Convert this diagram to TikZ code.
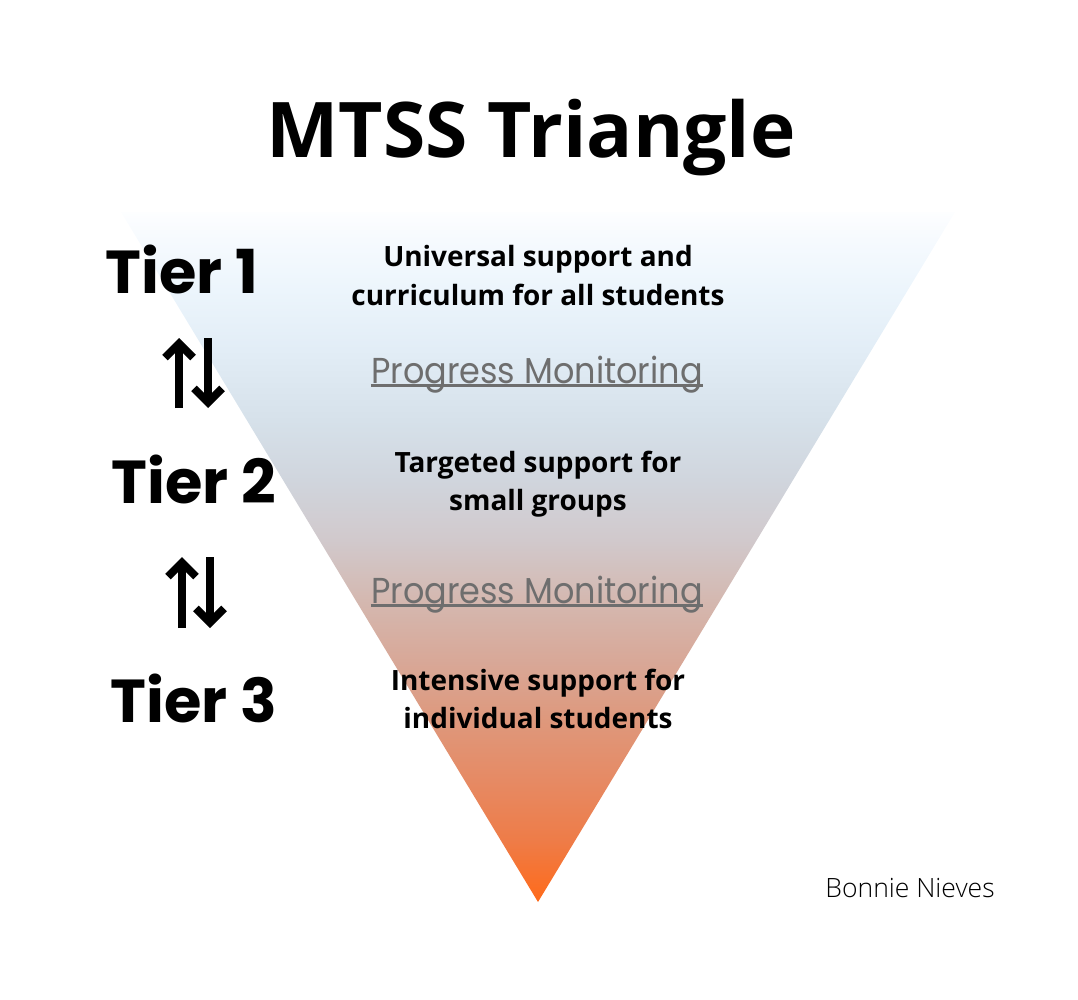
\documentclass[tikz,border=0pt]{standalone}
\usepackage{fontspec}
\setmainfont{Open Sans}
\newfontfamily\tierfont{Poppins}
\newfontfamily\pmfont{Poppins}
\newfontfamily\lightfont{Open Sans Light}
\usetikzlibrary{arrows.meta}
\definecolor{s0}{HTML}{FF6A1A}
\definecolor{s1}{HTML}{EE7C48}
\definecolor{s2}{HTML}{E68A64}
\definecolor{s3}{HTML}{DE987C}
\definecolor{s4}{HTML}{D8A898}
\definecolor{s5}{HTML}{D4B8B0}
\definecolor{s6}{HTML}{D1C9CC}
\definecolor{s7}{HTML}{D0D5DD}
\definecolor{s8}{HTML}{D6E1EA}
\definecolor{s9}{HTML}{E2EDF6}
\definecolor{s10}{HTML}{ECF5FC}
\definecolor{s11}{HTML}{F6FAFE}
\definecolor{s12}{HTML}{FDFEFF}
\definecolor{pmgray}{HTML}{6E6E6E}
\pgfdeclareverticalshading{mtss}{100bp}{color(0bp)=(s0); color(25bp)=(s0);
 color(29.49bp)=(s1); color(33.84bp)=(s2); color(38.19bp)=(s3); color(42.54bp)=(s4);
 color(46.88bp)=(s5); color(51.23bp)=(s6); color(55.58bp)=(s7); color(59.93bp)=(s8);
 color(65bp)=(s9); color(69.35bp)=(s10); color(72.97bp)=(s11); color(75bp)=(s12); color(100bp)=(s12)}
\newcommand{\pmnarrow}[1]{\scalebox{0.93}[1]{#1}}
\tikzset{
  titletext/.style={inner sep=0, anchor=base, font=\fontsize{43.7}{50}\selectfont\bfseries},
  tiertext/.style={inner sep=0, anchor=base, font=\tierfont\fontsize{34.5}{40}\selectfont\bfseries},
  desctext/.style={inner sep=0, anchor=base, font=\fontsize{15.9}{18}\selectfont\bfseries},
  pmtext/.style={inner sep=0, anchor=base, text=pmgray, font=\pmfont\fontsize{20.5}{24}\selectfont},
  pmline/.style={draw=pmgray, line width=1.8pt},
  credit/.style={inner sep=0, anchor=base, font=\lightfont\fontsize{15.1}{18}\selectfont},
  tierarrow/.style={line width=4.5pt, -{Straight Barb[length=8pt,width=16pt]}}
}
\begin{document}
\begin{tikzpicture}[x=0.02cm,y=-0.02cm]
\useasboundingbox (0,0) rectangle (1078,1000);
\shade[shading=mtss] (121,212) -- (955,212) -- (538,902) -- cycle;

\node[titletext] (title) at (531,158) {MTSS Triangle};

\node[tiertext] (t1) at (182,293) {Tier 1};
\node[tiertext] (t2) at (194,503) {Tier 2};
\node[tiertext] (t3) at (194,722) {Tier 3};

\node[desctext] (d1a) at (538,266) {Universal support and};
\node[desctext] (d1b) at (538,305) {curriculum for all students};
\node[desctext] (d2a) at (538,472) {Targeted support for};
\node[desctext] (d2b) at (538,510) {small groups};
\node[desctext] (d3a) at (538,690) {Intensive support for};
\node[desctext] (d3b) at (538,728) {individual students};

\node[pmtext] (pm1) at (537,383) {\pmnarrow{Progress Monitoring}};
\node[pmtext] (pm2) at (537,603) {\pmnarrow{Progress Monitoring}};
\draw[pmline] ([yshift=-1.2pt]pm1.base west) -- ([yshift=-1.2pt]pm1.base east);
\draw[pmline] ([yshift=-1.2pt]pm2.base west) -- ([yshift=-1.2pt]pm2.base east);

\coordinate (a1s) at (179,408); \coordinate (a1e) at (179,338);
\coordinate (b1s) at (208,338); \coordinate (b1e) at (208,408);
\coordinate (a2s) at (182,628); \coordinate (a2e) at (182,557);
\coordinate (b2s) at (210,557); \coordinate (b2e) at (210,628);
\draw[tierarrow] (a1s) -- (a1e);
\draw[tierarrow] (b1s) -- (b1e);
\draw[tierarrow] (a2s) -- (a2e);
\draw[tierarrow] (b2s) -- (b2e);

\node[credit] (credit) at (910,897) {Bonnie Nieves};
\end{tikzpicture}
\end{document}
